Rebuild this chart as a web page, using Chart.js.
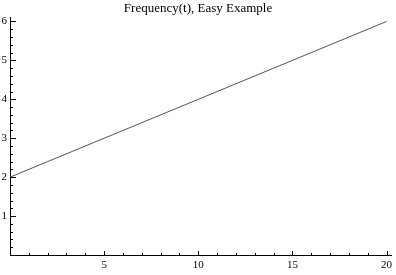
<!DOCTYPE html>
<html>
<head>
<meta charset="utf-8">
<script src="https://cdn.jsdelivr.net/npm/chart.js@4.4.0/dist/chart.umd.min.js"></script>
<style>
  html, body { margin: 0; padding: 0; background: #fff; }
  #wrap { width: 396px; height: 275px; }
</style>
</head>
<body>
<div id="wrap"><canvas id="chart"></canvas></div>
<script>
// data
const tValues = [0, 20];
const freqValues = [2, 6];
const xTickLabels = [5, 10, 15, 20];
const yTickLabels = [1, 2, 3, 4, 5, 6];

// inward tick marks, Mathematica style (major + 4 minor)
const tickMarks = {
    id: 'tickMarks',
    afterDraw(chart) {
        const c = chart.ctx;
        const xs = chart.scales.x, ys = chart.scales.y;
        const area = chart.chartArea;
        c.save();
        c.strokeStyle = '#000';
        c.lineWidth = 1;
        c.beginPath();
        for (let i = 1; i <= 20; i++) {
            const px = Math.round(xs.getPixelForValue(i)) + 0.5;
            const len = i % 5 === 0 ? 4 : 2;
            c.moveTo(px, area.bottom);
            c.lineTo(px, area.bottom - len);
        }
        for (let i = 1; i <= 30; i++) {
            const py = Math.round(ys.getPixelForValue(i / 5)) + 0.5;
            const len = i % 5 === 0 ? 6 : 3;
            c.moveTo(area.left, py);
            c.lineTo(area.left + len, py);
        }
        c.stroke();
        c.restore();
    }
};

new Chart(document.getElementById('chart'), {
    type: 'scatter',
    data: {
        datasets: [{
            data: tValues.map((t, i) => ({ x: t, y: freqValues[i] })),
            showLine: true,
            borderColor: '#555',
            borderWidth: 1,
            pointRadius: 0,
            fill: false
        }]
    },
    options: {
        responsive: true,
        maintainAspectRatio: false,
        animation: false,
        layout: { padding: 0 },
        plugins: {
            legend: { display: false },
            tooltip: { enabled: false },
            title: {
                display: true,
                text: 'Frequency(t), Easy Example',
                color: '#000',
                font: { family: 'Liberation Serif', size: 13, weight: 'normal' },
                padding: { top: 1, bottom: 1 }
            }
        },
        scales: {
            x: {
                type: 'linear',
                min: 0,
                max: 20.25,
                afterBuildTicks: s => { s.ticks = xTickLabels.map(v => ({ value: v })); },
                afterFit: s => { s.height = 20; },
                grid: { display: false, drawTicks: false },
                border: { display: true, color: '#000', width: 1 },
                ticks: {
                    padding: 4,
                    color: '#000',
                    font: { family: 'Liberation Serif', size: 11 },
                    maxRotation: 0,
                    autoSkip: false
                }
            },
            y: {
                type: 'linear',
                min: 0,
                max: 6.1,
                afterBuildTicks: s => { s.ticks = yTickLabels.map(v => ({ value: v })); },
                afterFit: s => { s.width = 10; },
                grid: { display: false, drawTicks: false },
                border: { display: true, color: '#000', width: 1 },
                ticks: {
                    padding: 3,
                    color: '#000',
                    font: { family: 'Liberation Serif', size: 11 },
                    autoSkip: false
                }
            }
        }
    },
    plugins: [tickMarks]
});
</script>
</body>
</html>
